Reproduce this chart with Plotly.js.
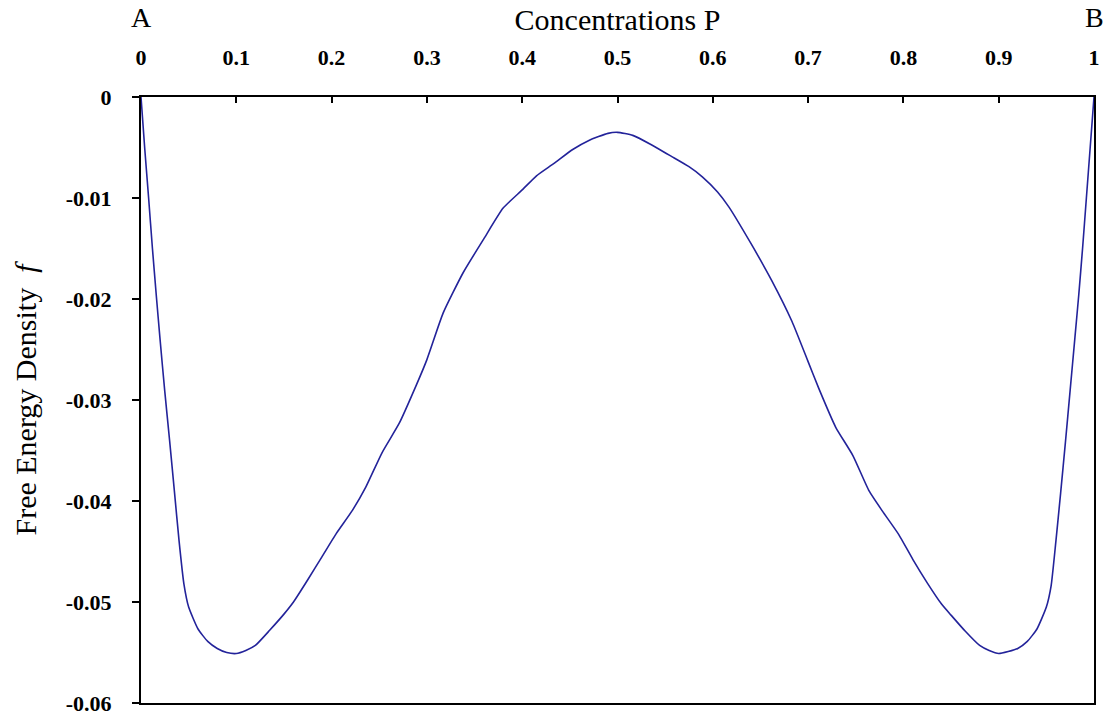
<!DOCTYPE html>
<html>
<head>
<meta charset="utf-8">
<script src="https://cdn.plot.ly/plotly-3.0.1.min.js"></script>
<style>html,body{margin:0;padding:0;background:#fff;}#chart{width:1105px;height:720px;}</style>
</head>
<body>
<div id="chart"></div>
<script>
// Concentration P (x) and free energy density f (y)
const concentration = [
  0.000, 0.004, 0.008, 0.012, 0.016, 0.020, 0.025, 0.030, 0.035, 0.040,
  0.045, 0.050, 0.060, 0.070, 0.080, 0.090, 0.100, 0.110, 0.120, 0.135,
  0.150, 0.160, 0.175, 0.190, 0.205, 0.222, 0.236, 0.253, 0.271, 0.289,
  0.300, 0.317, 0.338, 0.360, 0.380, 0.400, 0.415, 0.433, 0.453, 0.470,
  0.490, 0.500, 0.516, 0.535, 0.557, 0.575, 0.589, 0.605, 0.617, 0.640,
  0.662, 0.683, 0.700, 0.711, 0.729, 0.747, 0.764, 0.778, 0.795, 0.810,
  0.825, 0.840, 0.850, 0.865, 0.880, 0.890, 0.900, 0.910, 0.920, 0.930,
  0.940, 0.950, 0.955, 0.960, 0.965, 0.970, 0.975, 0.980, 0.984, 0.988,
  0.992, 0.996, 1.000
];
const freeEnergy = [
  0.0000, -0.0052, -0.0100, -0.0150, -0.0196, -0.0240, -0.0292, -0.0340, -0.0390, -0.0440,
  -0.0482, -0.0505, -0.0527, -0.0539, -0.0546, -0.0550, -0.0551, -0.0548, -0.0543, -0.0528,
  -0.0512, -0.0500, -0.0478, -0.0455, -0.0432, -0.0409, -0.0386, -0.0352, -0.0323, -0.0285,
  -0.0260, -0.0214, -0.0174, -0.0140, -0.0110, -0.0092, -0.0078, -0.0066, -0.0052, -0.0043,
  -0.0036, -0.0035, -0.0038, -0.0047, -0.0059, -0.0069, -0.0079, -0.0094, -0.0109, -0.0145,
  -0.0182, -0.0222, -0.0262, -0.0288, -0.0327, -0.0355, -0.0390, -0.0410, -0.0433, -0.0458,
  -0.0481, -0.0502, -0.0513, -0.0529, -0.0543, -0.0548, -0.0551, -0.0549, -0.0546, -0.0539,
  -0.0527, -0.0505, -0.0484, -0.0440, -0.0392, -0.0342, -0.0290, -0.0238, -0.0196, -0.0150,
  -0.0100, -0.0050, 0.0000
];
const xTickVals = [0, 0.1, 0.2, 0.3, 0.4, 0.5, 0.6, 0.7, 0.8, 0.9, 1];
const xTickText = ["0", "0.1", "0.2", "0.3", "0.4", "0.5", "0.6", "0.7", "0.8", "0.9", "1"];
const yTickVals = [0, -0.01, -0.02, -0.03, -0.04, -0.05, -0.06];
const yTickText = ["0", "-0.01", "-0.02", "-0.03", "-0.04", "-0.05", "-0.06"];
const endLabels = ["A", "B"];
const endPositions = [0, 1];

const serif = "Liberation Serif";

const trace = {
  x: concentration,
  y: freeEnergy,
  type: "scatter",
  mode: "lines",
  line: {color: "#23239a", width: 1.6, shape: "spline", smoothing: 0.5},
  hoverinfo: "x+y",
  cliponaxis: false
};

const layout = {
  width: 1105,
  height: 720,
  paper_bgcolor: "#ffffff",
  plot_bgcolor: "#ffffff",
  showlegend: false,
  font: {family: serif, color: "#000"},
  margin: {l: 141, r: 11, t: 97, b: 17},
  xaxis: {
    side: "top",
    range: [0, 1],
    tickmode: "array",
    tickvals: xTickVals,
    ticktext: xTickText,
    ticks: "inside",
    ticklen: 6,
    tickwidth: 2,
    tickcolor: "#000",
    ticklabelstandoff: 21,
    tickfont: {family: serif, size: 22, color: "#000", weight: "bold"},
    showline: true,
    linecolor: "#000",
    linewidth: 2,
    mirror: true,
    showgrid: false,
    zeroline: false,
    automargin: false,
    title: {text: "Concentrations P", font: {family: serif, size: 30, color: "#000"}, standoff: 6}
  },
  yaxis: {
    range: [-0.06, 0],
    tickmode: "array",
    tickvals: yTickVals,
    ticktext: yTickText,
    ticks: "outside",
    ticklen: 7,
    tickwidth: 2,
    tickcolor: "#000",
    ticklabelstandoff: 16,
    tickfont: {family: serif, size: 22, color: "#000", weight: "bold"},
    showline: true,
    linecolor: "#000",
    linewidth: 2,
    mirror: true,
    showgrid: false,
    zeroline: false,
    automargin: false,
    title: {text: "Free Energy Density  <i>f</i>", font: {family: serif, size: 30, color: "#000"}, standoff: 20}
  },
  annotations: endLabels.map((t, i) => ({
    text: t,
    x: endPositions[i],
    xref: "x",
    y: 1,
    yref: "paper",
    yshift: 80,
    yanchor: "middle",
    xanchor: "center",
    showarrow: false,
    font: {family: serif, size: 28, color: "#000"}
  }))
};

Plotly.newPlot("chart", [trace], layout, {displayModeBar: false, responsive: false});
</script>
</body>
</html>
